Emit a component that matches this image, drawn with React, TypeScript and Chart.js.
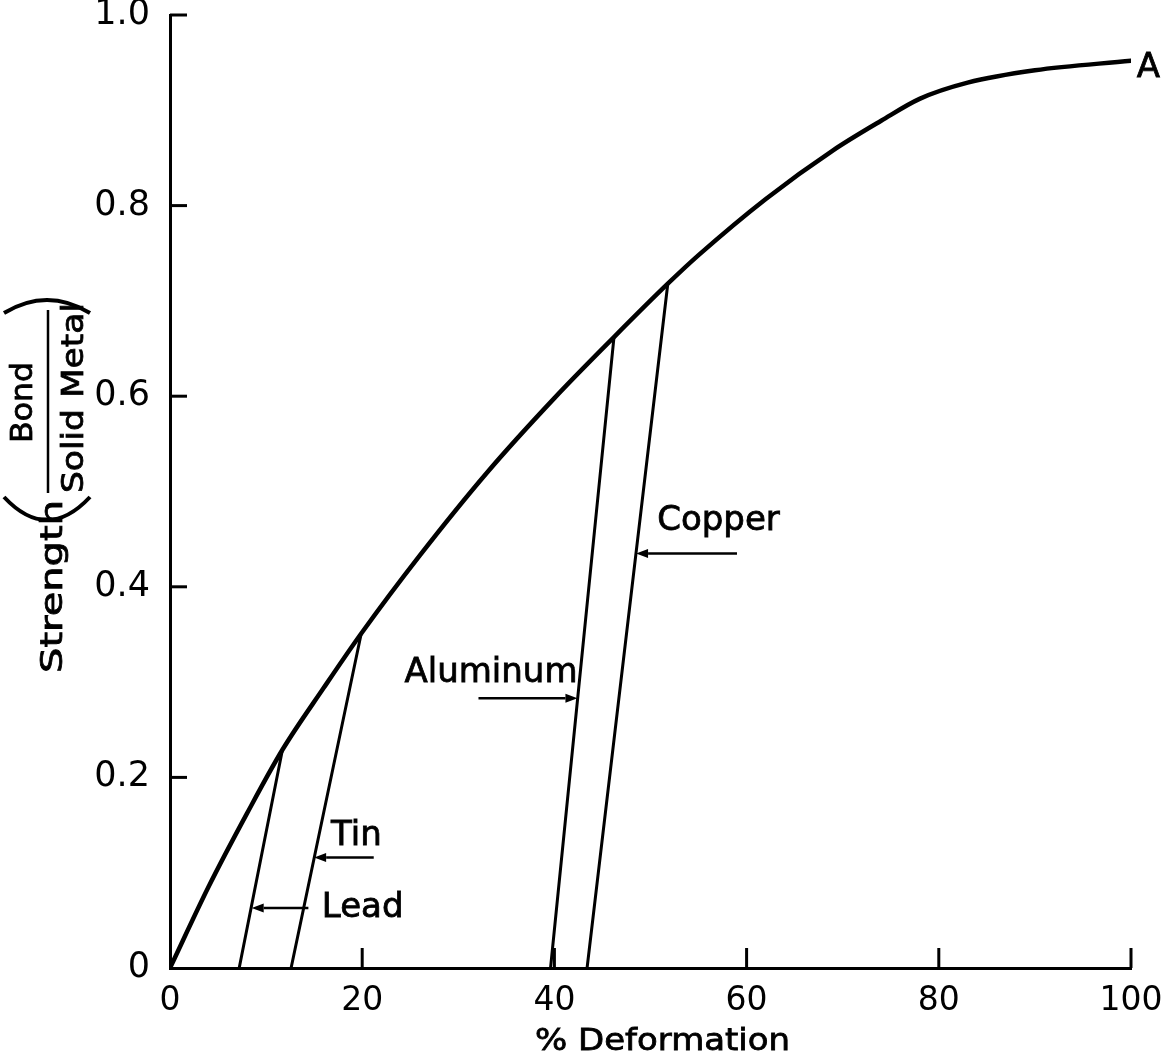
import React, { useEffect, useRef } from "react";
import { Chart, registerables } from "chart.js";

Chart.register(...registerables);

// ---- Data ----
const curveX = [0, 4, 8, 11.7, 16, 19.9, 26, 33, 40, 46.2, 51.8, 55, 62, 69, 74, 78, 83, 90, 100];
const curveY = [0, 0.085, 0.162, 0.229, 0.294, 0.351, 0.433, 0.52, 0.598, 0.662, 0.718, 0.748, 0.807, 0.858, 0.889, 0.912, 0.929, 0.942, 0.952];
const curveName = "A";
const curveLabelX = 100.6;
const curveLabelY = 0.935;

const metals = ["Lead", "Tin", "Aluminum", "Copper"];
const metalStartX = [7.2, 12.6, 39.6, 43.4];
const metalEndX = [11.7, 19.9, 46.2, 51.8];
const metalEndY = [0.229, 0.351, 0.662, 0.718];

const arrowFromX = [14.4, 21.2, 32.1, 59.0];
const arrowToX = [8.5, 15.0, 42.4, 48.5];
const arrowY = [0.063, 0.116, 0.283, 0.435];

const labelX = [15.8, 19.4, 24.4, 50.7];
const labelY = [0.0535, 0.129, 0.3, 0.46];
const labelAlign = ["left", "center", "left", "left"];

const xTicks = [0, 20, 40, 60, 80, 100];
const xTickLabels = ["0", "20", "40", "60", "80", "100"];
const yTicks = [0, 0.2, 0.4, 0.6, 0.8, 1.0];
const yTickLabels = ["0", "0.2", "0.4", "0.6", "0.8", "1.0"];

const xTitle = "% Deformation";
const yTitleMain = "Strength";
const yTitleNum = "Bond";
const yTitleDen = "Solid Metal";

const FONT = "'DejaVu Sans', sans-serif";

function fitText(ctx: CanvasRenderingContext2D, text: string, x: number, y: number, w: number) {
  const m = ctx.measureText(text).width;
  ctx.save();
  ctx.translate(x, y);
  ctx.scale(w / m, 1);
  ctx.textAlign = "left";
  ctx.fillText(text, 0, 0);
  ctx.strokeText(text, 0, 0);
  ctx.restore();
}

const decorPlugin = {
  id: "decor",
  afterDraw(chart: any) {
    const ctx: CanvasRenderingContext2D = chart.ctx;
    const xs = chart.scales.x;
    const ys = chart.scales.y;
    ctx.save();
    ctx.strokeStyle = "#000";
    ctx.fillStyle = "#000";
    ctx.lineCap = "butt";

    // inward ticks
    ctx.lineWidth = 3;
    xTicks.forEach((v) => {
      if (v === 0) return;
      const px = xs.getPixelForValue(v);
      ctx.beginPath();
      ctx.moveTo(px, ys.bottom);
      ctx.lineTo(px, ys.bottom - 20);
      ctx.stroke();
    });
    yTicks.forEach((v) => {
      if (v === 0) return;
      const py = ys.getPixelForValue(v);
      ctx.beginPath();
      ctx.moveTo(xs.left, py);
      ctx.lineTo(xs.left + 17, py);
      ctx.stroke();
    });

    // arrows
    ctx.lineWidth = 2.5;
    for (let i = 0; i < metals.length; i++) {
      const x0 = xs.getPixelForValue(arrowFromX[i]);
      const x1 = xs.getPixelForValue(arrowToX[i]);
      const py = ys.getPixelForValue(arrowY[i]);
      const dir = Math.sign(x1 - x0);
      const hl = 12;
      const hw = 4.5;
      ctx.beginPath();
      ctx.moveTo(x0, py);
      ctx.lineTo(x1 - dir * hl, py);
      ctx.stroke();
      ctx.beginPath();
      ctx.moveTo(x1, py);
      ctx.lineTo(x1 - dir * hl, py - hw);
      ctx.lineTo(x1 - dir * hl, py + hw);
      ctx.closePath();
      ctx.fill();
    }

    // labels
    ctx.font = `34px ${FONT}`;
    ctx.textBaseline = "alphabetic";
    ctx.lineWidth = 0.8;
    for (let i = 0; i < metals.length; i++) {
      ctx.textAlign = labelAlign[i] as CanvasTextAlign;
      const px = xs.getPixelForValue(labelX[i]);
      const py = ys.getPixelForValue(labelY[i]);
      ctx.fillText(metals[i], px, py);
      ctx.strokeText(metals[i], px, py);
    }
    ctx.textAlign = "left";
    {
      const px = xs.getPixelForValue(curveLabelX);
      const py = ys.getPixelForValue(curveLabelY);
      ctx.fillText(curveName, px, py);
      ctx.strokeText(curveName, px, py);
    }

    // x title
    ctx.font = `31px ${FONT}`;
    fitText(ctx, xTitle, 535, 1050, 255);

    // y title (rotated): image (X, Y) -> rotated (u = -Y, v = X)
    ctx.save();
    ctx.rotate(-Math.PI / 2);
    ctx.font = `31px ${FONT}`;
    fitText(ctx, yTitleMain, -673, 62, 173);
    fitText(ctx, yTitleNum, -443, 32, 81);
    fitText(ctx, yTitleDen, -493, 83, 190);
    ctx.lineWidth = 2.5;
    ctx.beginPath();
    ctx.moveTo(-493, 48);
    ctx.lineTo(-310, 48);
    ctx.stroke();
    ctx.lineWidth = 4;
    ctx.beginPath();
    ctx.moveTo(-497, 4);
    ctx.quadraticCurveTo(-543, 47, -497, 90);
    ctx.stroke();
    ctx.beginPath();
    ctx.moveTo(-313, 4);
    ctx.quadraticCurveTo(-287, 47, -313, 90);
    ctx.stroke();
    ctx.restore();

    ctx.restore();
  },
};

export default function App() {
  const ref = useRef<HTMLCanvasElement | null>(null);

  useEffect(() => {
    if (!ref.current) return;
    const curveData = curveX.map((x, i) => ({ x, y: curveY[i] }));
    const metalSets = metals.map((name, i) => ({
      label: name,
      data: [
        { x: metalStartX[i], y: 0 },
        { x: metalEndX[i], y: metalEndY[i] },
      ],
      borderColor: "#000",
      borderWidth: 3,
      pointRadius: 0,
      tension: 0,
      fill: false,
    }));
    const chart = new Chart(ref.current, {
      type: "line",
      data: {
        datasets: [
          {
            label: curveName,
            data: curveData,
            borderColor: "#000",
            borderWidth: 4.5,
            pointRadius: 0,
            cubicInterpolationMode: "monotone",
            fill: false,
          },
          ...metalSets,
        ],
      },
      options: {
        responsive: false,
        animation: false,
        devicePixelRatio: 1,
        events: [],
        layout: { padding: { top: 15, right: 43, left: 0, bottom: 0 } },
        plugins: { legend: { display: false }, tooltip: { enabled: false }, title: { display: false } },
        elements: { line: { borderCapStyle: "round", borderJoinStyle: "round" } },
        scales: {
          x: {
            type: "linear",
            min: 0,
            max: 100,
            afterBuildTicks: (s: any) => {
              s.ticks = xTicks.map((v) => ({ value: v }));
            },
            afterFit: (s: any) => {
              s.height = 86;
              s.paddingLeft = 0;
              s.paddingRight = 0;
            },
            ticks: {
              callback: (_v: any, i: number) => xTickLabels[i],
              font: { family: FONT, size: 33 },
              color: "#000",
              padding: 6,
              maxRotation: 0,
              autoSkip: false,
            },
            grid: { display: false },
            border: { display: true, color: "#000", width: 3 },
          },
          y: {
            type: "linear",
            min: 0,
            max: 1,
            afterBuildTicks: (s: any) => {
              s.ticks = yTicks.map((v) => ({ value: v }));
            },
            afterFit: (s: any) => {
              s.width = 170;
              s.paddingTop = 0;
              s.paddingBottom = 0;
            },
            ticks: {
              callback: (_v: any, i: number) => yTickLabels[i],
              font: { family: FONT, size: 35 },
              color: "#000",
              padding: 12,
              autoSkip: false,
            },
            grid: { display: false },
            border: { display: true, color: "#000", width: 3 },
          },
        },
      } as any,
      plugins: [decorPlugin],
    });
    return () => chart.destroy();
  }, []);

  return (
    <div style={{ position: "fixed", left: 0, top: 0, width: 1174, height: 1054, background: "#fff" }}>
      <canvas ref={ref} width={1174} height={1054} style={{ display: "block", width: 1174, height: 1054 }} />
    </div>
  );
}
